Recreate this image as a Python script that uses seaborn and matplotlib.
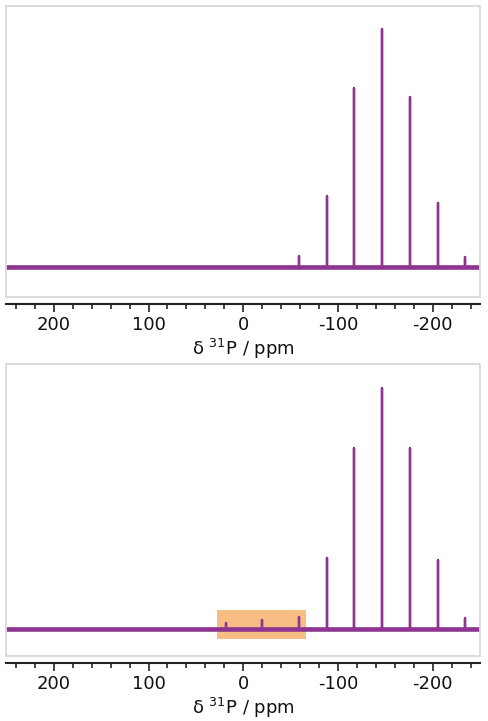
import numpy as np
import pandas as pd
import seaborn as sns
import matplotlib.pyplot as plt
from matplotlib.patches import Rectangle
from matplotlib.ticker import MultipleLocator

# peak positions (ppm) and heights
shifts_top = [-58.9, -88.2, -117.4, -146.7, -176.0, -205.3, -234.6]
heights_top = [11.5, 71, 179.5, 237.5, 170, 64, 10]

shifts_bottom = [17.8, -19.9, -58.4, -88.2, -117.4, -146.7, -176.0, -205.3, -234.6]
heights_bottom = [6, 8.6, 12, 70.6, 181, 241, 180.6, 69, 11.3]

# highlighted region in the lower spectrum
box_ppm = [27.6, -66.0]
box_int = [-9.7, 19.3]

ppm_range = [250, -250]
major_ticks = [200, 100, 0, -100, -200]
xlabel = 'δ $^{31}$P / ppm'

purple = '#8e3592'
orange = '#f6be84'

sns.set_style('white')
plt.rcParams['font.family'] = ['DejaVu Sans']
plt.rcParams['axes.unicode_minus'] = False
plt.rcParams['text.color'] = '#111111'
plt.rcParams['xtick.color'] = '#111111'
plt.rcParams['axes.labelcolor'] = '#111111'


def spectrum_frame(shifts, heights):
    xs, ys = [ppm_range[0]], [0]
    for p, h in sorted(zip(shifts, heights), reverse=True):
        xs += [p, p, p]
        ys += [0, h, 0]
    xs.append(ppm_range[1])
    ys.append(0)
    return pd.DataFrame({'ppm': xs, 'intensity': ys, 'order': range(len(xs))})


def draw_panel(ax, shifts, heights, ylim):
    df = spectrum_frame(shifts, heights)
    ax.axhline(0, color=purple, lw=3.3, zorder=3)
    sns.lineplot(data=df, x='ppm', y='intensity', sort=False, estimator=None,
                 color=purple, lw=1.7, ax=ax, zorder=4)
    ax.set_xlim(*ppm_range)
    ax.set_ylim(*ylim)
    ax.set_yticks([])
    ax.set_ylabel('')
    ax.set_xticks(major_ticks)
    ax.xaxis.set_minor_locator(MultipleLocator(20))
    ax.tick_params(axis='x', which='major', length=6, width=1.2, color='#222222',
                   labelsize=13, pad=3, direction='out', bottom=True)
    ax.tick_params(axis='x', which='minor', length=3.5, width=1.2, color='#222222',
                   direction='out', bottom=True)
    for side in ['top', 'left', 'right']:
        ax.spines[side].set_visible(False)
    ax.spines['bottom'].set_position(('outward', 5))
    ax.spines['bottom'].set_color('#222222')
    ax.spines['bottom'].set_linewidth(1.5)
    ax.add_patch(Rectangle((0, 0), 1, 1, transform=ax.transAxes, fill=False,
                           ec='#d9d9d9', lw=1.3, clip_on=False, zorder=5))
    ax.set_xlabel(xlabel, fontsize=13, labelpad=2)


fig = plt.figure(figsize=(4.88, 7.21), dpi=100)
ax1 = fig.add_axes([0.0133, 0.588, 0.9703, 0.4037])
ax2 = fig.add_axes([0.0133, 0.0902, 0.9703, 0.4049])

draw_panel(ax1, shifts_top, heights_top, (-30, 261))
draw_panel(ax2, shifts_bottom, heights_bottom, (-27, 265))

ax2.add_patch(Rectangle((box_ppm[1], box_int[0]), box_ppm[0] - box_ppm[1],
                        box_int[1] - box_int[0], fc=orange, ec='none', zorder=2))

fig.savefig('out.png', dpi=100)
